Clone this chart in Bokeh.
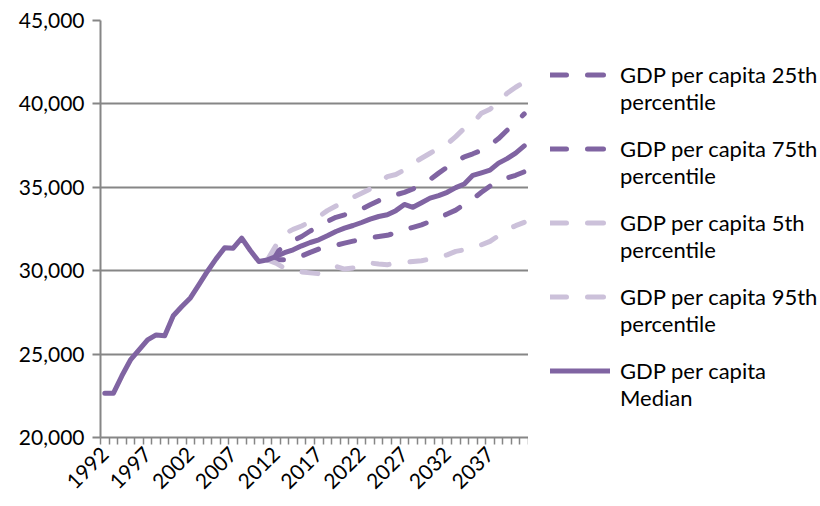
from bokeh.plotting import figure
from bokeh.layouts import row
from bokeh.models import ColumnDataSource, Legend, LegendItem, FixedTicker, NumeralTickFormatter
from bokeh.embed import file_html
from bokeh.resources import INLINE

# Years on the category axis
years = list(range(1992, 2042))
forecast_years = list(range(2011, 2042))
tick_years = [1992, 1997, 2002, 2007, 2012, 2017, 2022, 2027, 2032, 2037]

# Median GDP per capita, 1992-2041
median = [22650, 22650, 23700, 24650, 25250, 25850, 26150, 26100, 27300, 27850,
          28370, 29170, 29970, 30710, 31370, 31350, 31950, 31210, 30550, 30650,
          30850, 31080, 31250, 31490, 31690, 31850, 32090, 32350, 32550, 32710,
          32890, 33090, 33250, 33350, 33600, 33970, 33800, 34070, 34350, 34500,
          34700, 34980, 35200, 35720, 35870, 36030, 36450, 36720, 37050, 37480]

# Forecast percentiles, 2011-2041
p25 = [30650, 30650, 30650, 30700, 30880, 31100, 31300, 31420, 31530, 31650,
       31770, 31880, 31970, 32050, 32120, 32270, 32450, 32600, 32750, 32950,
       33150, 33400, 33630, 33980, 34300, 34700, 35070, 35380, 35560, 35720, 35930]
p75 = [30650, 31100, 31450, 31800, 32050, 32380, 32650, 32950, 33200, 33350,
       33550, 33700, 33950, 34200, 34400, 34550, 34700, 34900, 35180, 35470,
       35850, 36210, 36520, 36830, 37010, 37210, 37520, 37920, 38420, 38900, 39400]
p5 = [30650, 30450, 30150, 30000, 29920, 29870, 29820, 30050, 30260, 30100,
      30160, 30330, 30460, 30400, 30360, 30450, 30500, 30550, 30600, 30700,
      30800, 30950, 31160, 31250, 31360, 31550, 31760, 32100, 32460, 32700, 32900]
p95 = [30650, 31510, 32200, 32480, 32680, 32940, 33240, 33600, 33880, 34080,
       34400, 34640, 34900, 35240, 35640, 35770, 36040, 36440, 36740, 37040,
       37340, 37600, 38040, 38540, 38840, 39440, 39680, 40140, 40640, 41000, 41300]

series_names = ["GDP per capita 25th", "GDP per capita 75th", "GDP per capita 5th",
                "GDP per capita 95th", "GDP per capita"]
series_second = ["percentile", "percentile", "percentile", "percentile", "Median"]

DARK = "#8064A2"
LIGHT = "#CCC1DA"
GRID = "#868686"
FONT = "Lato"
DASH = "16 21"
LW = 5

# line styles: 25th, 75th, 5th, 95th, median
styles = [dict(line_color=DARK, line_dash=DASH), dict(line_color=DARK, line_dash=DASH),
          dict(line_color=LIGHT, line_dash=DASH), dict(line_color=LIGHT, line_dash=DASH),
          dict(line_color=DARK)]
columns = ["p25", "p75", "p5", "p95", "median"]

hist = ColumnDataSource(dict(year=years, median=median))
fc = ColumnDataSource(dict(year=forecast_years, p25=p25, p75=p75, p5=p5, p95=p95))
sources = [fc, fc, fc, fc, hist]

chart = figure(frame_width=428, frame_height=417,
               output_backend="svg", toolbar_location=None,
               x_range=(1991.5, 2041.5), y_range=(20000, 45000),
               min_border_left=100, min_border_right=0, min_border_top=20, min_border_bottom=61)
chart.outline_line_color = None

for col, src, st in zip(columns, sources, styles):
    chart.line("year", col, source=src, line_width=LW, line_cap="round",
               line_join="round", **st)

# x axis: labels every 5 years, tick marks between categories
xa = chart.xaxis[0]
xa.ticker = FixedTicker(ticks=tick_years, minor_ticks=[y - 0.5 for y in years] + [2041.5])
xa.major_tick_line_color = None
xa.major_tick_out = 7
xa.minor_tick_in = 0
xa.minor_tick_out = 7
xa.minor_tick_line_color = GRID
xa.minor_tick_line_width = 1.5
xa.major_label_orientation = 0.785398
xa.major_label_standoff = 6
xa.axis_line_color = GRID
xa.axis_line_width = 2

ya = chart.yaxis[0]
ya.ticker = FixedTicker(ticks=[20000, 25000, 30000, 35000, 40000, 45000])
ya.formatter = NumeralTickFormatter(format="0,0")
ya.major_tick_in = 0
ya.major_tick_out = 8
ya.major_tick_line_color = GRID
ya.major_tick_line_width = 2
ya.minor_tick_line_color = None
ya.major_label_standoff = 8
ya.axis_line_color = GRID
ya.axis_line_width = 2

for ax in (xa, ya):
    ax.major_label_text_font = FONT
    ax.major_label_text_font_size = "21px"
    ax.major_label_text_color = "black"

chart.xgrid.grid_line_color = None
chart.ygrid.grid_line_color = GRID
chart.ygrid.grid_line_width = 2

# legend panel to the right of the chart; its ranges keep the series out of view
key = figure(width=292, height=498, output_backend="svg", toolbar_location=None,
             x_range=(0, 1), y_range=(0, 1),
             min_border=0, x_axis_location=None, y_axis_location=None)
key.outline_line_color = None
key.grid.visible = False
key_lines = [key.line("year", col, source=src, line_width=LW, line_cap="round", **st)
             for col, src, st in zip(columns, sources, styles)]
blank = key.line("year", "median", source=hist, line_alpha=0)


def make_legend(items, loc):
    lg = Legend(items=items, location=loc)
    lg.border_line_color = None
    lg.background_fill_alpha = 0
    lg.label_text_font = FONT
    lg.label_text_font_size = "22px"
    lg.label_text_color = "black"
    lg.glyph_width = 60
    lg.glyph_height = 27
    lg.label_height = 27
    lg.label_standoff = 10
    lg.spacing = 47
    lg.margin = 0
    lg.padding = 0
    return lg


# first lines of the legend with the series glyphs, second lines below them
first = make_legend([LegendItem(label=n, renderers=[r])
                     for n, r in zip(series_names, key_lines)], (22, 53))
second = make_legend([LegendItem(label=n, renderers=[blank]) for n in series_second], (22, 26))
key.add_layout(first)
key.add_layout(second)

p = row(chart, key)
open("out.html", "w").write(file_html(p, INLINE))
